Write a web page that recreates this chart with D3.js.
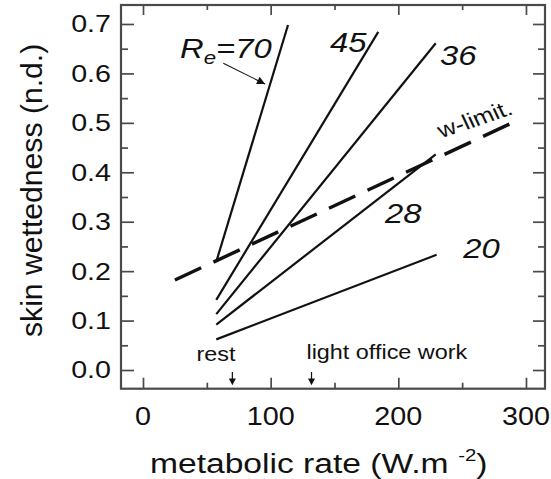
<!DOCTYPE html>
<html>
<head>
<meta charset="utf-8">
<script src="https://cdn.jsdelivr.net/npm/d3@7"></script>
<style>
  body { margin: 0; background: #fff; }
  svg { display: block; }
  text { font-family: "Liberation Sans", Arial, Helvetica, sans-serif; fill: #111; }
</style>
</head>
<body>
<svg id="chart" width="551" height="479"></svg>
<script>
// Skin wettedness vs metabolic rate for several evaporative resistances Re
const re70 = [[57.4, 0.219], [113.6, 0.698]];
const re45 = [[57.4, 0.142], [184.3, 0.684]];
const re36 = [[57.4, 0.113], [229.3, 0.661]];
const re28 = [[57.4, 0.092], [229.3, 0.436]];
const re20 = [[57.4, 0.062], [230.0, 0.233]];
const wLimit = [[25.0, 0.182], [287.5, 0.498]];

const seriesNames = ["70", "45", "36", "28", "20"];
const seriesValues = [re70, re45, re36, re28, re20];
// label anchor (metabolic rate, wettedness) for each Re curve
const seriesLabelPos = [[29.0, 0.631], [146.5, 0.644], [232.6, 0.617], [189.6, 0.298], [250.9, 0.226]];

const xTickValues = [0, 100, 200, 300];
const xMinorValues = [50, 150, 250];
const yTickValues = [0.0, 0.1, 0.2, 0.3, 0.4, 0.5, 0.6, 0.7];
const yMinorValues = [0.05, 0.15, 0.25, 0.35, 0.45, 0.55, 0.65];

const activityNames = ["rest", "light office work"];
const activityRates = [70, 132];

const xTitle = "metabolic rate (W.m";
const yTitle = "skin wettedness (n.d.)";

// ---------------------------------------------------------------
const svg = d3.select("#chart");
const plot = { left: 121, right: 545, top: 5, bottom: 388.7 };
const SX = 1.17;           // horizontal text stretch
const frameColor = "#4a4a4a";

const x = d3.scaleLinear().domain([-17.23, 314.9]).range([plot.left, plot.right]);
const y = d3.scaleLinear().domain([-0.0378, 0.7384]).range([plot.bottom, plot.top]);

function label(g, px, py, str, size, anchor, sx, extra) {
  const t = g.append("text")
    .attr("transform", `translate(${px},${py}) scale(${sx},1)`)
    .attr("text-anchor", anchor || "start")
    .attr("font-size", size)
    .text(str);
  if (extra) extra(t);
  return t;
}

// --- ticks (inward on all four sides) ---
const ticksG = svg.append("g").attr("class", "ticks");
function tickAxis(axis, transform, values, size) {
  const g = ticksG.append("g").attr("transform", transform)
    .call(axis.tickValues(values).tickSize(size).tickFormat(""));
  g.select(".domain").remove();
  g.selectAll(".tick line").attr("stroke", frameColor).attr("stroke-width", 1.7);
}
tickAxis(d3.axisLeft(y), `translate(${plot.left},0)`, yTickValues, -13);
tickAxis(d3.axisLeft(y), `translate(${plot.left},0)`, yMinorValues, -7);
tickAxis(d3.axisRight(y), `translate(${plot.right},0)`, yTickValues, -12);
tickAxis(d3.axisRight(y), `translate(${plot.right},0)`, yMinorValues, -7);
tickAxis(d3.axisBottom(x), `translate(0,${plot.bottom})`, xTickValues, -11);
tickAxis(d3.axisBottom(x), `translate(0,${plot.bottom})`, xMinorValues, -6);
tickAxis(d3.axisTop(x), `translate(0,${plot.top})`, xTickValues, -10);
tickAxis(d3.axisTop(x), `translate(0,${plot.top})`, xMinorValues, -5);

// --- frame ---
svg.append("rect")
  .attr("x", plot.left).attr("y", plot.top)
  .attr("width", plot.right - plot.left).attr("height", plot.bottom - plot.top)
  .attr("fill", "none").attr("stroke", frameColor).attr("stroke-width", 2.2);

// --- tick labels ---
const tl = svg.append("g").attr("class", "tick-labels");
yTickValues.forEach(v => label(tl, 111, y(v) + 8.4, d3.format(".1f")(v), 23.5, "end", 1.22));
xTickValues.forEach(v => label(tl, x(v), 425, String(v), 25, "middle", 1.15));

// --- axis titles ---
label(svg, 150, 473, xTitle, 28, "start", 1.2, t => {
  t.append("tspan").attr("font-size", 17).attr("dx", 8).attr("dy", -12).text("-2");
  t.append("tspan").attr("dy", 12).text(")");
});
svg.append("text")
  .attr("transform", "translate(41.5,337) rotate(-90) scale(1.04,1)")
  .attr("font-size", 29)
  .text(yTitle);

// --- curves ---
const line = d3.line().x(d => x(d[0])).y(d => y(d[1]));
const curves = svg.append("g").attr("class", "curves");
seriesValues.forEach(s => {
  curves.append("path").attr("d", line(s))
    .attr("fill", "none").attr("stroke", "#111").attr("stroke-width", 2.2);
});
curves.append("path").attr("d", line(wLimit))
  .attr("fill", "none").attr("stroke", "#111").attr("stroke-width", 3.4)
  .attr("stroke-dasharray", "29,13.5");

// --- curve labels ---
const cl = svg.append("g").attr("class", "curve-labels");
seriesNames.forEach((name, i) => {
  const [lx, ly] = seriesLabelPos[i];
  if (i === 0) {
    label(cl, x(lx), y(ly), "R", 28, "start", SX, t => {
      t.attr("font-style", "italic");
      t.append("tspan").attr("font-size", 19).attr("dy", 6).text("e");
      t.append("tspan").attr("dy", -6).text("=" + name);
    });
  } else {
    label(cl, x(lx), y(ly), name, 28, "start", SX, t => t.attr("font-style", "italic"));
  }
});

// w-limit label along the dashed line
svg.append("text")
  .attr("transform", `translate(${x(233.9)},${y(0.4686)}) scale(${SX},1) rotate(-21.7)`)
  .attr("font-size", 21.5)
  .text("w-limit.");

// pointer from the Re=70 label to its line
const defs = svg.append("defs");
defs.append("marker").attr("id", "head")
  .attr("viewBox", "0 0 10 10").attr("refX", 10).attr("refY", 5)
  .attr("markerWidth", 11).attr("markerHeight", 8).attr("markerUnits", "userSpaceOnUse")
  .attr("orient", "auto")
  .append("path").attr("d", "M0,0 L10,5 L0,10 Z").attr("fill", "#111");
svg.append("line")
  .attr("x1", x(62.9)).attr("y1", y(0.6205))
  .attr("x2", x(95.6)).attr("y2", y(0.5786))
  .attr("stroke", "#111").attr("stroke-width", 1.1)
  .attr("marker-end", "url(#head)");

// --- activity markers along the x axis ---
const act = svg.append("g").attr("class", "activities");
activityNames.forEach((name, i) => {
  const ax = x(activityRates[i]);
  act.append("line")
    .attr("x1", ax).attr("x2", ax)
    .attr("y1", y(-0.004)).attr("y2", y(-0.022))
    .attr("stroke", "#111").attr("stroke-width", 1.2);
  act.append("path")
    .attr("d", `M${ax - 3.5},${y(-0.017)} L${ax + 3.5},${y(-0.017)} L${ax},${y(-0.031)} Z`)
    .attr("fill", "#111");
});
label(act, x(57.2), y(0.019), activityNames[0], 20, "middle", SX);
label(act, x(191), y(0.0216), activityNames[1], 20, "middle", SX);
</script>
</body>
</html>
